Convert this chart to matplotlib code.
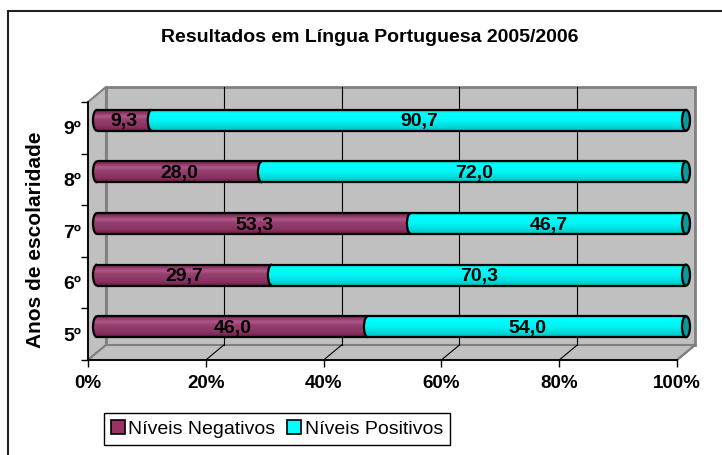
import numpy as np
import matplotlib
matplotlib.use("Agg")
import matplotlib.pyplot as plt
from matplotlib.patches import Polygon, Ellipse, Arc, Patch, Rectangle, PathPatch
from matplotlib.path import Path

plt.rcParams['font.family'] = ['Liberation Sans', 'DejaVu Sans']

# ---- data ----
categories = ['5º', '6º', '7º', '8º', '9º']
negativos = [46.0, 29.7, 53.3, 28.0, 9.3]
positivos = [54.0, 70.3, 46.7, 72.0, 90.7]
series_names = ['Níveis Negativos', 'Níveis Positivos']
x_ticks = [0, 20, 40, 60, 80, 100]
x_ticklabels = ['0%', '20%', '40%', '60%', '80%', '100%']
title = 'Resultados em Língua Portuguesa 2005/2006'
ylabel = 'Anos de escolaridade'

W, H = 722, 455
fig = plt.figure(figsize=(W / 100, H / 100), dpi=100)
fig.patch.set_facecolor('white')

# front plane of the 3D box in pixels
fx0, fx1, fyb, fyt = 88, 677, 360, 102
ax = fig.add_axes([fx0 / W, (H - fyb) / H, (fx1 - fx0) / W, (fyb - fyt) / H])
ax.set_facecolor('none')
ax.set_xlim(0, 100)
ax.set_ylim(0, len(categories))
ppx = (fx1 - fx0) / 100.0
ppy = (fyb - fyt) / len(categories)
dx = 18 / ppx      # depth offset in data units
dy = 15 / ppy
ncat = len(categories)

wall_c = '#C0C0C0'
edge_c = '#808080'
# back wall, left wall, floor
ax.add_patch(Polygon([(dx, dy), (100 + dx, dy), (100 + dx, ncat + dy), (dx, ncat + dy)],
                     closed=True, fc=wall_c, ec=edge_c, lw=2, zorder=0.5, clip_on=False))
ax.add_patch(Polygon([(0, 0), (dx, dy), (dx, ncat + dy), (0, ncat)],
                     closed=True, fc=wall_c, ec=edge_c, lw=1.5, zorder=0.6, clip_on=False))
ax.add_patch(Polygon([(0, 0), (100, 0), (100 + dx, dy), (dx, dy)],
                     closed=True, fc=wall_c, ec=edge_c, lw=1.5, zorder=0.6, clip_on=False))
for v in x_ticks[1:-1]:
    ax.plot([v + dx, v + dx], [dy, ncat + dy], color='black', lw=0.8, zorder=0.8, clip_on=False)
    ax.plot([v, v + dx], [0, dy], color='black', lw=0.8, zorder=0.8, clip_on=False)
ax.plot([100, 100 + dx], [0, dy], color=edge_c, lw=1.5, zorder=0.8, clip_on=False)

# bars (cylinders) at mid depth
h = 21 / ppy
ew = 8 / ppx
ypos = np.arange(ncat) + 0.5 + dy / 2
x0 = dx / 2
neg = np.array(negativos)
pos = np.array(positivos)

maroon = '#993366'
cyan = '#00FFFF'
bars_neg = ax.barh(ypos, neg, left=x0, height=h, color=maroon, edgecolor='none', zorder=3)
bars_pos = ax.barh(ypos, pos, left=x0 + neg, height=h, color=cyan, edgecolor='none', zorder=3)


def grad(stops, n=64):
    t = np.linspace(0, 1, n)
    pts = np.array([s[0] for s in stops])
    cols = np.array([matplotlib.colors.to_rgb(s[1]) for s in stops])
    arr = np.stack([np.interp(t, pts, cols[:, k]) for k in range(3)], axis=-1)
    return arr[:, None, :]


g_neg = grad([(0, '#6e1f48'), (0.12, '#8a3462'), (0.3, '#b0588a'), (0.45, '#95406f'),
              (0.8, '#8a3262'), (1, '#6a1c44')])
g_pos = grad([(0, '#00d8d8'), (0.15, '#00ffff'), (0.5, '#00f6f6'), (0.85, '#00d4d4'), (1, '#00b8b8')])


def body(rect, g, z):
    xa, yb = rect.get_x(), rect.get_y()
    xb, yt = xa + rect.get_width(), yb + rect.get_height()
    yc = (yb + yt) / 2
    rx, ry = ew / 2, (yt - yb) / 2
    th = np.linspace(np.pi / 2, 3 * np.pi / 2, 40)
    arc = [(xa + rx * np.cos(t), yc + ry * np.sin(t)) for t in th]
    verts = [(xa, yt), (xb, yt), (xb, yb), (xa, yb)] + arc[::-1][1:] + [(xa, yt)]
    shape = PathPatch(Path(verts), fc='none', ec='none', transform=ax.transData, zorder=z,
                      clip_on=False)
    ax.add_patch(shape)
    rect.set_visible(False)
    im = ax.imshow(g, extent=[xa - rx, xb, yb, yt], origin='upper', aspect='auto',
                   zorder=z, interpolation='bilinear')
    im.set_clip_box(fig.bbox)
    im.set_clip_path(shape)
    ax.plot([xa, xb], [yt, yt], color='black', lw=1.6, zorder=z + 0.1, solid_capstyle='butt',
            clip_on=False)
    ax.plot([xa, xb], [yb, yb], color='black', lw=1.6, zorder=z + 0.1, solid_capstyle='butt',
            clip_on=False)
    ax.add_patch(Arc((xa, yc), ew, yt - yb, theta1=90, theta2=270, color='black',
                     lw=1.6, zorder=z + 0.1, clip_on=False))
    return xa, xb, yc


for i in range(ncat):
    a1, b1, yc = body(bars_neg[i], g_neg, 3)
    a2, b2, _ = body(bars_pos[i], g_pos, 4)
    ax.add_patch(Ellipse((b2, yc), ew, h, fc='#0a9a9a', ec='black', lw=1.6, zorder=5,
                         clip_on=False))
    ax.text((a1 + b1) / 2, yc - 0.03, f'{negativos[i]:.1f}'.replace('.', ','),
            ha='center', va='center', fontsize=14, fontweight='bold', zorder=6)
    ax.text((a2 + b2) / 2, yc - 0.03, f'{positivos[i]:.1f}'.replace('.', ','),
            ha='center', va='center', fontsize=14, fontweight='bold', zorder=6)

ax.set_xlim(0, 100)
ax.set_ylim(0, ncat)

# axes / ticks
for s in ['top', 'right']:
    ax.spines[s].set_visible(False)
for s in ['left', 'bottom']:
    ax.spines[s].set_color('black')
    ax.spines[s].set_linewidth(1.3)
    ax.spines[s].set_zorder(2)
ax.set_xticks(x_ticks)
ax.set_xticklabels(x_ticklabels, fontsize=13.5, fontweight='bold')
ax.tick_params(axis='x', length=5, width=1, pad=6)
ax.set_yticks(np.arange(ncat + 1))
ax.set_yticklabels([])
ax.tick_params(axis='y', which='major', length=5, width=1)
ax.set_yticks(np.arange(ncat) + 0.5, minor=True)
ax.set_yticklabels(categories, minor=True, fontsize=14, fontweight='bold')
ax.tick_params(axis='y', which='minor', length=0, pad=5)

fig.text(370 / W, 1 - 37 / H, title, ha='center', va='center', fontsize=14, fontweight='bold')
fig.text(36 / W, 1 - 240 / H, ylabel, ha='center', va='center', rotation=90,
         fontsize=15, fontweight='bold')

handles = [Patch(fc=maroon, ec='black', lw=1.2), Patch(fc=cyan, ec='black', lw=1.2)]
leg = fig.legend(handles, series_names, loc='center', bbox_to_anchor=(277 / W, 1 - 429 / H),
                 bbox_transform=fig.transFigure, ncol=2, fontsize=14, frameon=True,
                 fancybox=False, edgecolor='black', framealpha=1, handlelength=0.7,
                 handleheight=0.7, handletextpad=0.2, columnspacing=0.6, borderpad=0.35,
                 borderaxespad=0)
leg.get_frame().set_linewidth(1.0)

fig.patches.append(Rectangle((8 / W, -0.05), 1.2, 1.05 - 11 / H, transform=fig.transFigure,
                             fill=False, ec='#222222', lw=1.5))

fig.savefig('out.png', dpi=100)
